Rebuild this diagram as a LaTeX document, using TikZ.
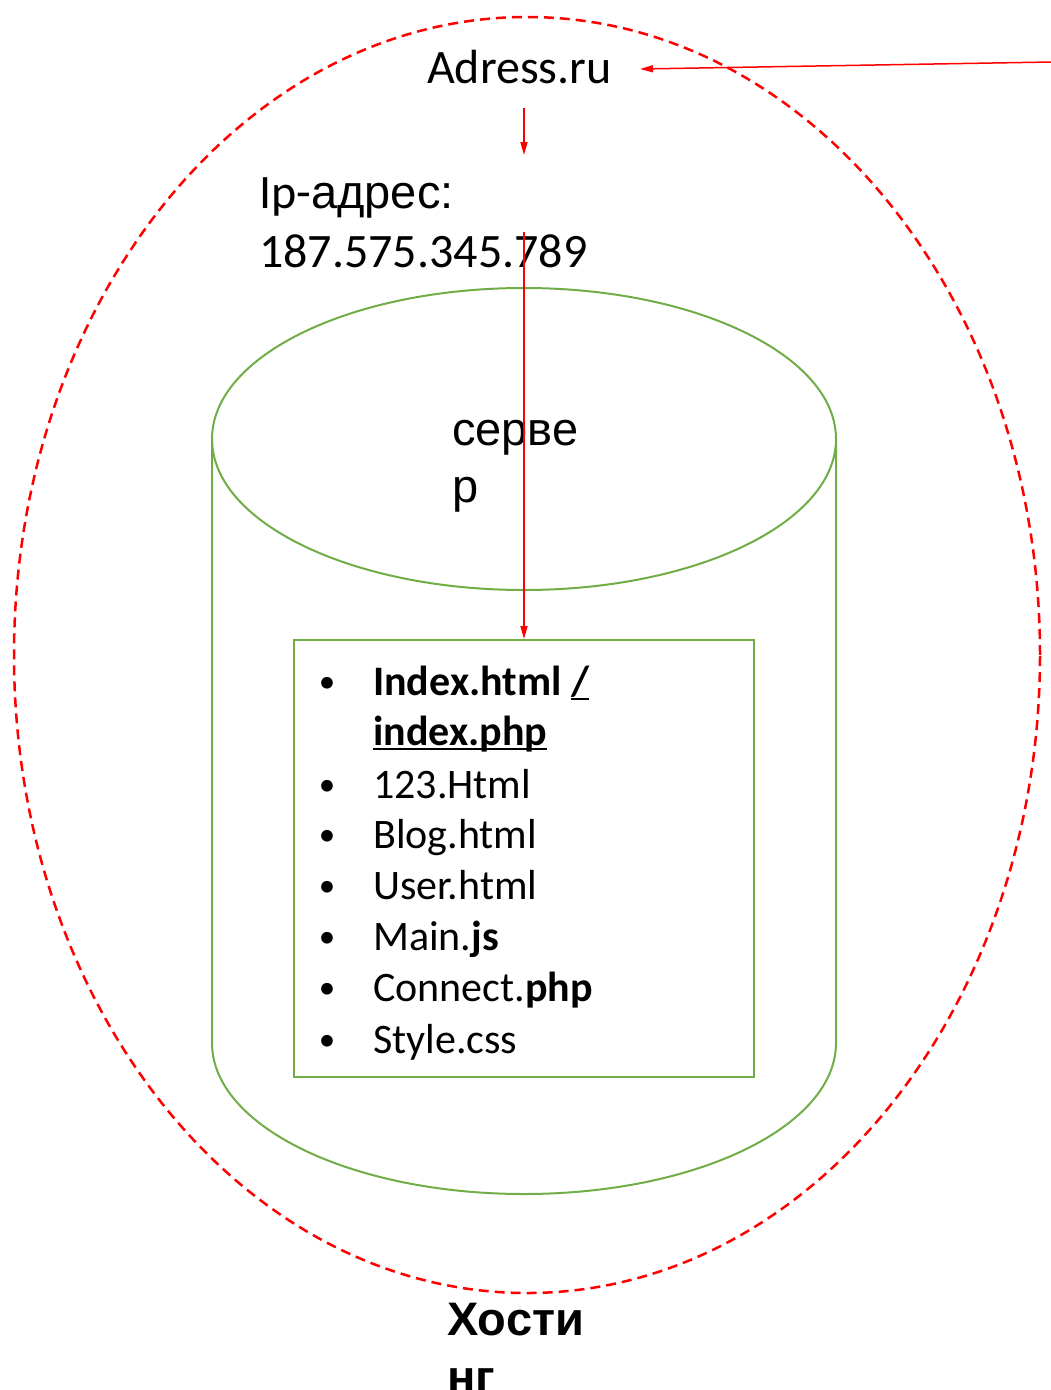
\documentclass[tikz,border=0pt]{standalone}
\usepackage{fontspec}
\setmainfont{Carlito}
\newfontfamily\arialfont{Liberation Sans}
\usetikzlibrary{arrows.meta}

\definecolor{hostred}{RGB}{255,0,0}
\definecolor{servgreen}{RGB}{112,173,71}
\tikzset{
  redarrow/.style={draw=hostred, line width=1.5pt, -{Triangle[length=13pt,width=7pt]}},
  txt/.style={anchor=base west, inner sep=0pt},
  bigfont/.style={font=\fontsize{48}{56}\selectfont},
  arialbig/.style={font=\arialfont\fontsize{47}{56}\selectfont},
  arialbold/.style={font=\arialfont\bfseries\fontsize{47}{56}\selectfont},
  listfont/.style={font=\fontsize{42}{50}\selectfont},
  bulletfont/.style={font=\fontsize{33}{40}\selectfont, anchor=base},
  greenline/.style={draw=servgreen, line width=2pt},
}
\newcommand{\fatline}[1]{\setbox0\hbox{#1}\rlap{\rule[-5pt]{\wd0}{2.5pt}}\box0}

\begin{document}
\begin{tikzpicture}[x=1pt,y=-1pt]
\useasboundingbox (0,0) rectangle (1051,1390);

% hosting
\draw[hostred, line width=2.5pt, dash pattern=on 10pt off 6pt]
  (527,655) ellipse [x radius=513pt, y radius=638pt];

% server
\draw[greenline] (524,439) ellipse [x radius=312pt, y radius=151pt];
\draw[greenline] (212,439) -- (212,1043)
  arc [start angle=180, end angle=360, x radius=312pt, y radius=151pt] -- (836,439);

\node[txt, bigfont] (adress) at (427,83) {Adress.ru};
\node[txt, bigfont] (ip) at (259,208) {Ip-{\arialfont\fontsize{47}{56}\selectfont адрес:}};
\node[txt, bigfont] (ipnum) at (259,267) {187.575.345.789};

\node[txt, arialbig] (server) at (452,445) {серве};
\node[txt, arialbig] (serverb) at (452,502) {р};

\node[greenline, minimum width=460pt, minimum height=437pt, inner sep=0pt]
  (files) at (524,858.5) {};

\node[bulletfont] (bul0) at (327,692) {•};
\node[txt, listfont] (file0) at (373,695) {\textbf{Index.html \fatline{/}}};
\node[txt, listfont] (file0b) at (373,745) {\fatline{\textbf{index.php}}};
\foreach \y/\t [count=\i] in {798/{123.Html}, 848/{Blog.html}, 899/{User.html},
    950/{Main.\textbf{js}}, 1001/{Connect.\textbf{php}}, 1053/{Style.css}}
{
  \node[bulletfont] (bul\i) at (327,\y-3) {•};
  \node[txt, listfont] (file\i) at (373,\y) {\t};
}

\node[txt, arialbold] (host) at (447,1335) {Хости};
\node[txt, arialbold] (hostb) at (447,1393) {нг};

% arrows
\coordinate (web) at (1051,62);
\coordinate (stepa) at (524,108);
\coordinate (stepb) at (524,155);
\coordinate (stepc) at (524,232);
\draw[redarrow] (web) -- ([xshift=28pt]adress.east |- 0,69);
\draw[redarrow] (stepa) -- (stepb);
\draw[redarrow] (stepc) -- (files.north);
\end{tikzpicture}
\end{document}
